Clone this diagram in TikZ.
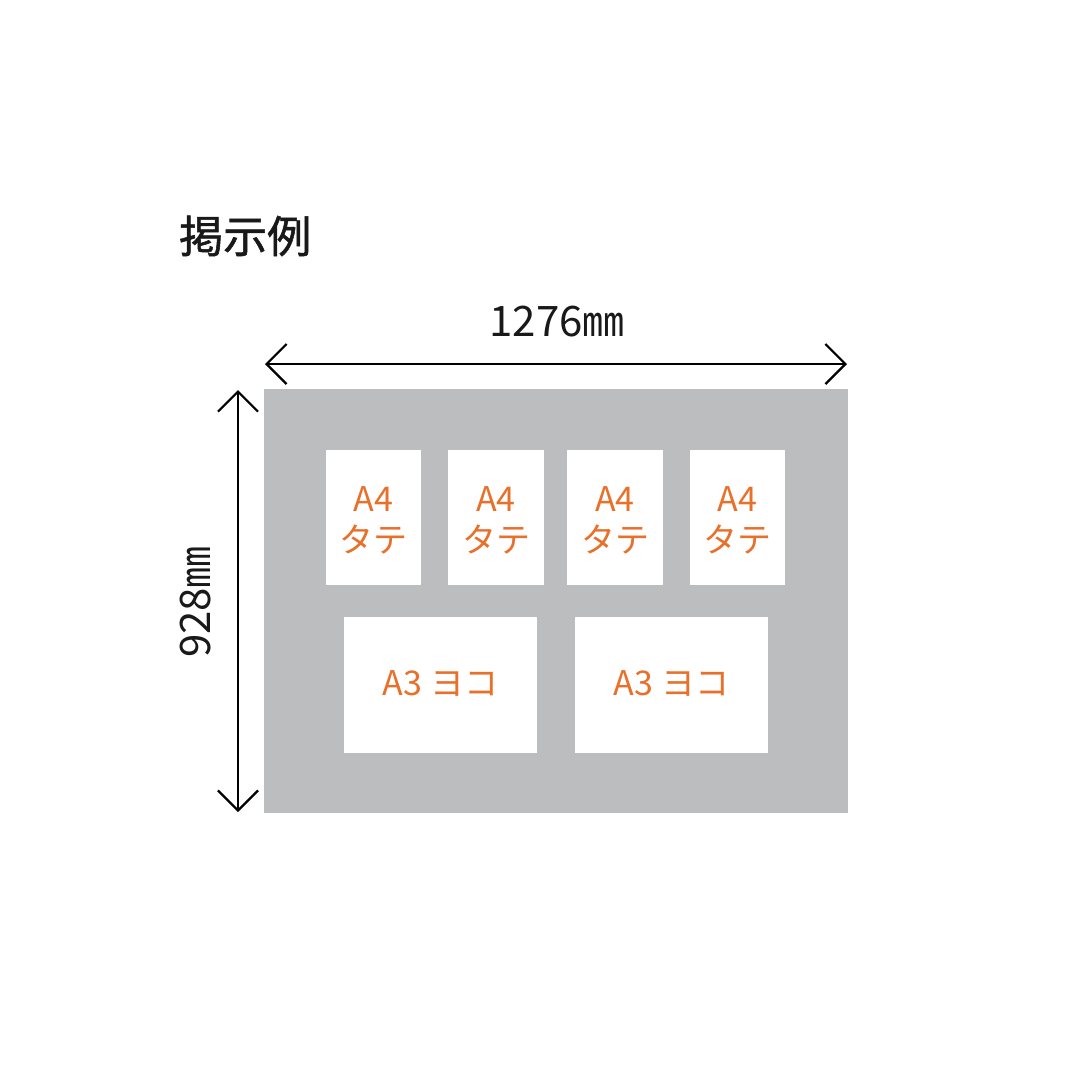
\documentclass[tikz,border=0pt]{standalone}
\usepackage{fontspec}
\newfontfamily\jp{Noto Sans CJK JP}
\newfontfamily\jpmed[FakeBold=1.2]{Noto Sans CJK JP}
\definecolor{panelgray}{HTML}{BCBDBF}
\definecolor{orangetxt}{HTML}{E8702A}
\usetikzlibrary{arrows.meta}
\begin{document}
\begin{tikzpicture}[x=1pt,y=-1pt,
  lbl/.style={text=orangetxt,font=\jp\fontsize{34}{39}\selectfont,align=center},
  dim/.style={line width=2.2pt,{Straight Barb[length=20pt,width=40pt,line width=2.2pt]}-{Straight Barb[length=20pt,width=40pt,line width=2.2pt]}},
  dimtxt/.style={font=\jp\fontsize{42}{42}\selectfont,text=black!90}]
\useasboundingbox (0,0) rectangle (1080,1080);
\fill[white] (0,0) rectangle (1080,1080);
% title
\node[anchor=west,font=\jpmed\fontsize{44}{44}\selectfont,text=black!90,inner sep=0pt] (title) at (179,236) {掲示例};
% gray panel
\node[fill=panelgray,minimum width=584pt,minimum height=424pt,inner sep=0pt] (panel) at (556,601) {};
% A4 sheets
\foreach \n/\xa/\xb in {a/326/421, b/448/544, c/567/663, d/690/785}{
  \fill[white] (\xa,450) rectangle (\xb,585);
  \node[lbl] (\n) at ({(\xa+\xb)/2},520) {A4\\[2pt]タテ};
}
% A3 sheets
\fill[white] (344,617) rectangle (537,753);
\node[lbl] (e) at (440.5,683) {A3 ヨコ};
\fill[white] (575,617) rectangle (768,753);
\node[lbl] (f) at (671.5,683) {A3 ヨコ};
% dimension arrows
\coordinate (hl) at (265,364);
\coordinate (hr) at (847,364);
\draw[dim] (hl) -- (hr);
\node[dimtxt] (wt) at (557,322) {1276㎜};
\coordinate (vt) at (238,390);
\coordinate (vb) at (238,812);
\draw[dim] (vt) -- (vb);
\node[dimtxt,rotate=90] (ht) at (196,602) {928㎜};
\end{tikzpicture}
\end{document}
